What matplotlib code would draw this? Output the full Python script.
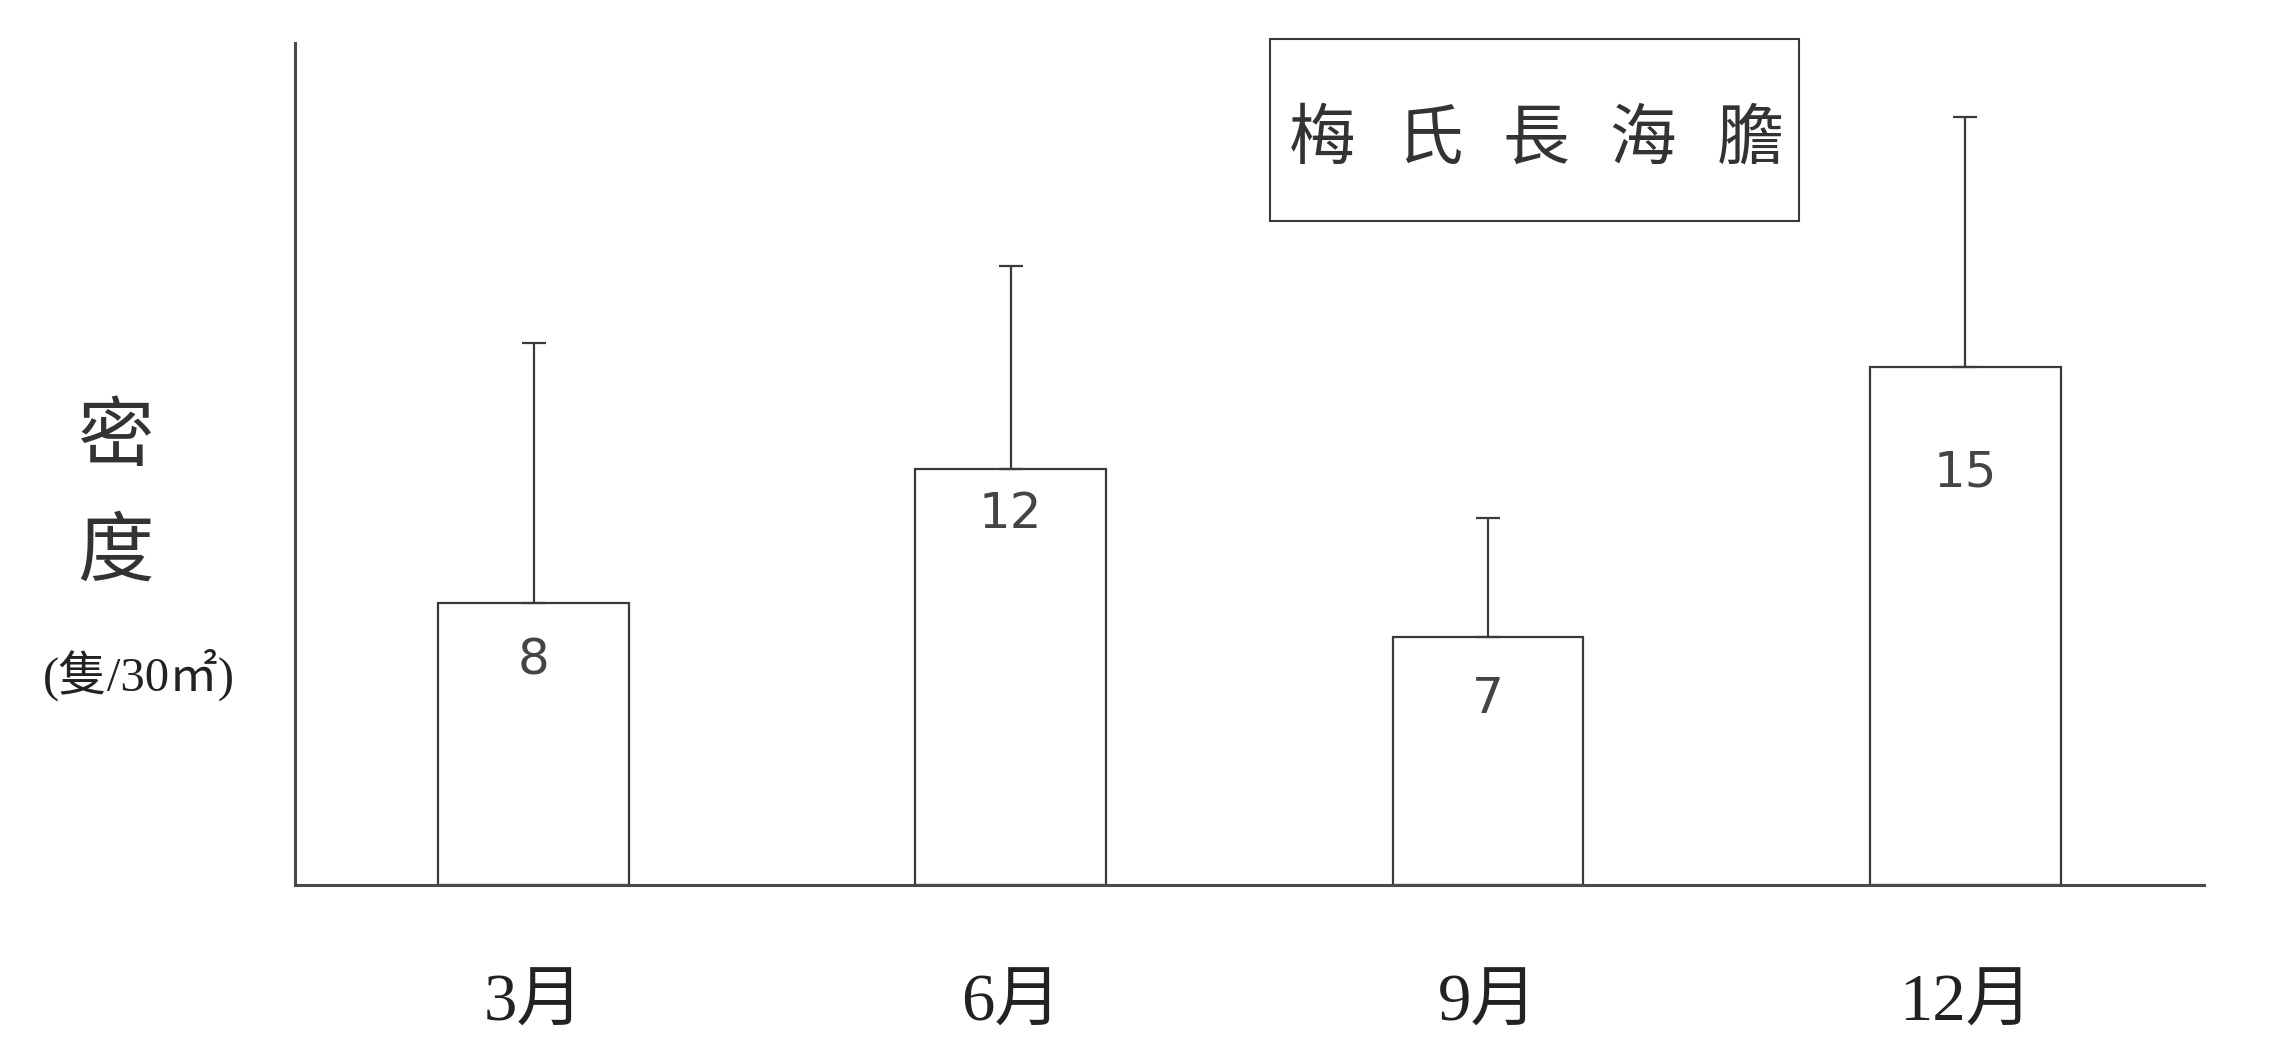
import matplotlib
matplotlib.use("Agg")
import matplotlib.pyplot as plt
import matplotlib.transforms as mtransforms
from matplotlib.patches import Rectangle
import numpy as np

# data
months = ["3月", "6月", "9月", "12月"]
density = [8.17, 12.05, 7.18, 15.0]
err_up = [7.53, 5.88, 3.45, 7.24]
value_labels = ["8", "12", "7", "15"]
label_drop = [1.68, 1.31, 1.79, 3.04]   # how far below bar top the value sits
species = "梅氏長海膽"

INK = "#3a3a3a"
SERIF_CJK = ["Liberation Serif", "Noto Sans CJK TC", "DejaVu Sans"]
CJK = ["Noto Sans CJK TC", "DejaVu Sans"]

fig = plt.figure(figsize=(22.69, 10.46), dpi=100)
ax = fig.add_axes([0.130, 0.154, 0.8413, 0.805])

x = np.arange(len(months))
ax.bar(x, density, width=0.4, color="white", edgecolor=INK, linewidth=1.6, zorder=2)
ax.errorbar(x, density, yerr=[np.zeros(len(x)), err_up], fmt="none",
            ecolor=INK, elinewidth=1.6, capsize=8.5, capthick=1.6, zorder=3)

for xi, v, lab, d in zip(x, density, value_labels, label_drop):
    ax.text(xi, v - d, lab, ha="center", va="center", fontsize=36,
            family=["DejaVu Sans"], color="#444444", zorder=4)

ax.set_xlim(-0.5, 3.5)
ax.set_ylim(0, 24.4)
ax.set_xticks([])
ax.set_yticks([])
for s in ("top", "right"):
    ax.spines[s].set_visible(False)
for s in ("left", "bottom"):
    ax.spines[s].set_linewidth(2.2)
    ax.spines[s].set_color("#4a4a4a")

# month labels well below the axis
trans = mtransforms.blended_transform_factory(ax.transData, ax.transAxes)
for xi, m in zip(x, months):
    ax.text(xi, -0.142, m, transform=trans, ha="center", va="center",
            fontsize=48, family=SERIF_CJK, color="#222222")

# vertical y label
fig.text(0.0507, 1 - 438 / 1046, "密", ha="center", va="center",
         fontsize=55, family=CJK, color="#333333")
fig.text(0.0507, 1 - 553 / 1046, "度", ha="center", va="center",
         fontsize=55, family=CJK, color="#333333")
fig.text(0.0613, 1 - 675 / 1046, "(隻/30㎡)", ha="center", va="center",
         fontsize=35, family=SERIF_CJK, color="#222222")

# species box
fig.patches.append(Rectangle((1270 / 2269, 1 - 221 / 1046), 529 / 2269, 182 / 1046,
                             transform=fig.transFigure, facecolor="white",
                             edgecolor=INK, linewidth=1.5))
for i, ch in enumerate(species):
    fig.text((1322 + 107 * i) / 2269, 1 - 140 / 1046, ch, ha="center", va="center",
             fontsize=48, family=CJK, color="#333333")

fig.savefig("out.png", dpi=100, facecolor="white")
